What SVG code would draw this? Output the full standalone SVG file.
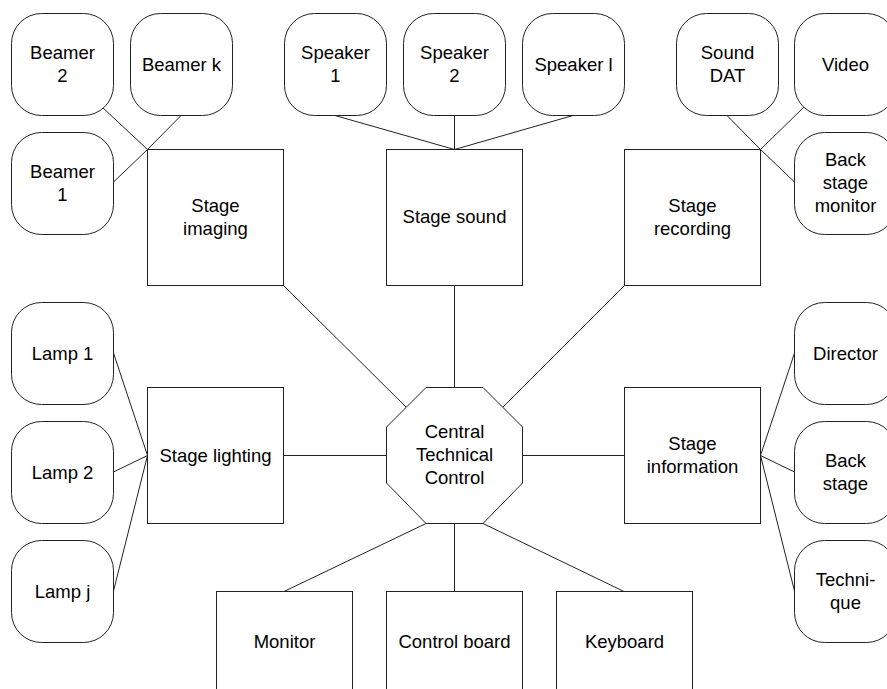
<svg xmlns="http://www.w3.org/2000/svg" width="887" height="689" viewBox="0 0 887 689">
<style>
.n rect, .n polygon { fill: #fff; stroke: #222; stroke-width: 1; }
.c line { stroke: #222; stroke-width: 1; }
text { font-family: "Liberation Sans", Arial, sans-serif; font-size: 18.5px; fill: #000; text-anchor: middle; }
</style>
<rect width="887" height="689" fill="#fff"/>
<g class="c" id="connectors">
  <line x1="102" y1="107" x2="147.5" y2="149.5"/>
  <line x1="181" y1="115.5" x2="147.5" y2="149.5"/>
  <line x1="113.5" y1="182" x2="147.5" y2="149.5"/>
  <line x1="335" y1="115.5" x2="454.5" y2="149.5"/>
  <line x1="454.5" y1="115.5" x2="454.5" y2="149.5"/>
  <line x1="573" y1="115.5" x2="454.5" y2="149.5"/>
  <line x1="727" y1="115.5" x2="760.5" y2="149.5"/>
  <line x1="804" y1="107" x2="760.5" y2="149.5"/>
  <line x1="794.5" y1="182" x2="760.5" y2="149.5"/>
  <line x1="113.5" y1="353" x2="147.5" y2="455.5"/>
  <line x1="113.5" y1="472" x2="147.5" y2="455.5"/>
  <line x1="113.5" y1="591" x2="147.5" y2="455.5"/>
  <line x1="760.5" y1="455.5" x2="794.5" y2="353"/>
  <line x1="760.5" y1="455.5" x2="794.5" y2="472"/>
  <line x1="760.5" y1="455.5" x2="794.5" y2="591"/>
  <line x1="283.5" y1="285.5" x2="406" y2="407"/>
  <line x1="454.5" y1="285.5" x2="454.5" y2="387.5"/>
  <line x1="624.5" y1="285.5" x2="503" y2="407"/>
  <line x1="283.5" y1="455.5" x2="386.5" y2="455.5"/>
  <line x1="522.5" y1="455.5" x2="624.5" y2="455.5"/>
  <line x1="426" y1="523.5" x2="284" y2="591.5"/>
  <line x1="454.5" y1="523.5" x2="454.5" y2="591.5"/>
  <line x1="483" y1="523.5" x2="624" y2="591.5"/>
</g>
<g class="n" id="beamer2"><rect x="11.5" y="13.5" width="102" height="102" rx="30"/><text x="62.5" y="58.5">Beamer</text><text x="62.5" y="81.5">2</text></g>
<g class="n" id="beamerk"><rect x="130.5" y="13.5" width="102" height="102" rx="30"/><text x="181.5" y="70.5">Beamer k</text></g>
<g class="n" id="beamer1"><rect x="11.5" y="132.5" width="102" height="102" rx="30"/><text x="62.5" y="177.5">Beamer</text><text x="62.5" y="200.5">1</text></g>
<g class="n" id="speaker1"><rect x="284.5" y="13.5" width="102" height="102" rx="30"/><text x="335.5" y="58.5">Speaker</text><text x="335.5" y="81.5">1</text></g>
<g class="n" id="speaker2"><rect x="403.5" y="13.5" width="102" height="102" rx="30"/><text x="454.5" y="58.5">Speaker</text><text x="454.5" y="81.5">2</text></g>
<g class="n" id="speakerl"><rect x="522.5" y="13.5" width="102" height="102" rx="30"/><text x="573.5" y="70.5">Speaker l</text></g>
<g class="n" id="sounddat"><rect x="676.5" y="13.5" width="102" height="102" rx="30"/><text x="727.5" y="58.5">Sound</text><text x="727.5" y="81.5">DAT</text></g>
<g class="n" id="video"><rect x="794.5" y="13.5" width="102" height="102" rx="30"/><text x="845.5" y="70.5">Video</text></g>
<g class="n" id="backstagemonitor"><rect x="794.5" y="132.5" width="102" height="102" rx="30"/><text x="845.5" y="165.5">Back</text><text x="845.5" y="188.5">stage</text><text x="845.5" y="211.5">monitor</text></g>
<g class="n" id="lamp1"><rect x="11.5" y="302.5" width="102" height="102" rx="30"/><text x="62.5" y="359.5">Lamp 1</text></g>
<g class="n" id="lamp2"><rect x="11.5" y="421.5" width="102" height="102" rx="30"/><text x="62.5" y="478.5">Lamp 2</text></g>
<g class="n" id="lampj"><rect x="11.5" y="540.5" width="102" height="102" rx="30"/><text x="62.5" y="597.5">Lamp j</text></g>
<g class="n" id="director"><rect x="794.5" y="302.5" width="102" height="102" rx="30"/><text x="845.5" y="359.5">Director</text></g>
<g class="n" id="backstage"><rect x="794.5" y="421.5" width="102" height="102" rx="30"/><text x="845.5" y="466.5">Back</text><text x="845.5" y="489.5">stage</text></g>
<g class="n" id="technique"><rect x="794.5" y="540.5" width="102" height="102" rx="30"/><text x="845.5" y="585.5">Techni-</text><text x="845.5" y="608.5">que</text></g>
<g class="n" id="stageimaging"><rect x="147.5" y="149.5" width="136" height="136"/><text x="215.5" y="212">Stage</text><text x="215.5" y="235">imaging</text></g>
<g class="n" id="stagesound"><rect x="386.5" y="149.5" width="136" height="136"/><text x="454.5" y="223">Stage sound</text></g>
<g class="n" id="stagerecording"><rect x="624.5" y="149.5" width="136" height="136"/><text x="692.5" y="212">Stage</text><text x="692.5" y="235">recording</text></g>
<g class="n" id="stagelighting"><rect x="147.5" y="387.5" width="136" height="136"/><text x="215.5" y="461.5">Stage lighting</text></g>
<g class="n" id="stageinformation"><rect x="624.5" y="387.5" width="136" height="136"/><text x="692.5" y="449.5">Stage</text><text x="692.5" y="472.5">information</text></g>
<g class="n" id="central"><polygon points="426,387.5 483,387.5 522.5,427 522.5,483 483,523.5 426,523.5 386.5,483 386.5,427"/><text x="454.5" y="438">Central</text><text x="454.5" y="461">Technical</text><text x="454.5" y="484">Control</text></g>
<g class="n" id="monitor"><rect x="216.5" y="591.5" width="136" height="136"/><text x="284.5" y="648">Monitor</text></g>
<g class="n" id="controlboard"><rect x="386.5" y="591.5" width="136" height="136"/><text x="454.5" y="648">Control board</text></g>
<g class="n" id="keyboard"><rect x="556.5" y="591.5" width="136" height="136"/><text x="624.5" y="648">Keyboard</text></g>
</svg>
